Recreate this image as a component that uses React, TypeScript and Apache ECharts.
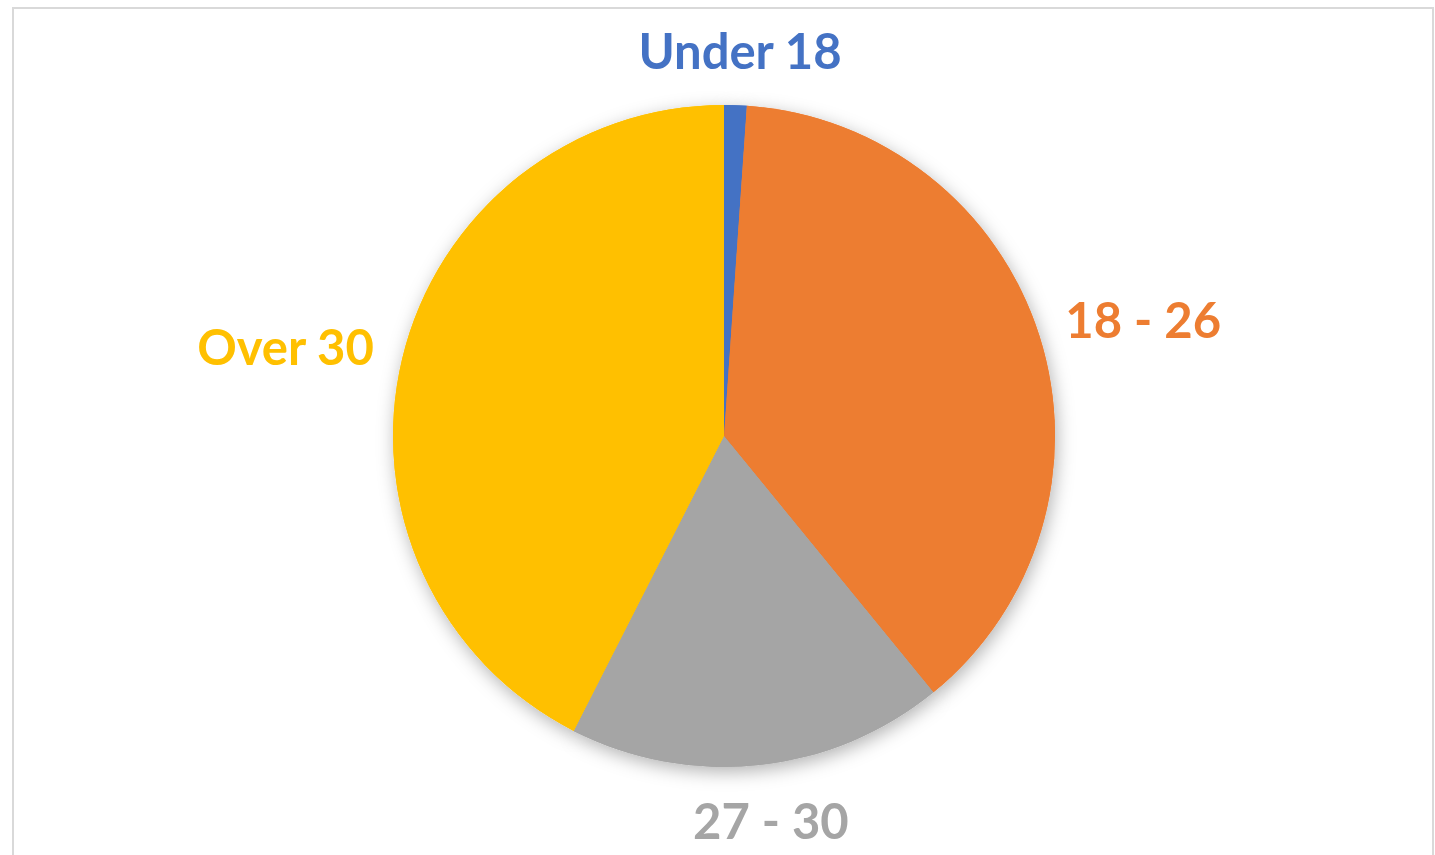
import React, { useEffect, useRef } from "react";
import * as echarts from "echarts";

const categories = ["Under 18", "18 - 26", "27 - 30", "Over 30"];
const values = [1.1, 38.0, 18.4, 42.5];
const colors = ["#4472C4", "#ED7D31", "#A5A5A5", "#FFC000"];

const CX = 724;
const CY = 436;
const R = 331;
const GAP = 31;

export default function App() {
  const ref = useRef<HTMLDivElement>(null);
  useEffect(() => {
    document.body.style.margin = "0";
    const chart = echarts.init(ref.current!, null, { renderer: "svg" });
    const total = values.reduce((a, b) => a + b, 0);
    const mids: number[] = [];
    let cum = 0;
    values.forEach((v) => {
      mids.push(((cum + v / 2) / total) * Math.PI * 2);
      cum += v;
    });
    const data = categories.map((c, i) => ({
      name: c,
      value: values[i],
      itemStyle: { color: colors[i] },
      label: { color: colors[i] },
    }));
    chart.setOption({
      animation: false,
      backgroundColor: "#ffffff",
      graphic: [
        {
          type: "rect",
          shape: { x: 13, y: 8, width: 1420, height: 870 },
          style: { fill: "none", stroke: "#d9d9d9", lineWidth: 2 },
          silent: true,
        },
      ],
      series: [
        {
          type: "pie",
          silent: true,
          center: [CX, CY],
          radius: R,
          startAngle: 90,
          z: 1,
          label: { show: false },
          labelLine: { show: false },
          itemStyle: {
            shadowBlur: 18,
            shadowOffsetX: 2,
            shadowOffsetY: 5,
            shadowColor: "rgba(0,0,0,0.3)",
          },
          data: data.map((d) => ({ ...d, label: { show: false } })),
        },
        {
          type: "pie",
          center: [CX, CY],
          radius: R,
          startAngle: 90,
          z: 2,
          avoidLabelOverlap: false,
          label: {
            show: true,
            position: "outside",
            formatter: "{b}",
            fontFamily: "Lato",
            fontWeight: "bold",
            fontSize: 49,
          },
          labelLine: { show: false },
          labelLayout: (params: any) => {
            const i = params.dataIndex;
            const a = mids[i];
            const dx = Math.sin(a);
            const dy = -Math.cos(a);
            const w = params.labelRect.width;
            const h = params.labelRect.height;
            const x = CX + dx * (R + GAP) + (dx * w) / 2;
            const y = CY + dy * (R + GAP) + (dy * h) / 2;
            return { x, y, align: "center", verticalAlign: "middle" };
          },
          data,
        },
      ],
    });
    return () => chart.dispose();
  }, []);
  return (
    <div
      ref={ref}
      style={{ position: "absolute", left: 0, top: 0, width: 1435, height: 855 }}
    />
  );
}
